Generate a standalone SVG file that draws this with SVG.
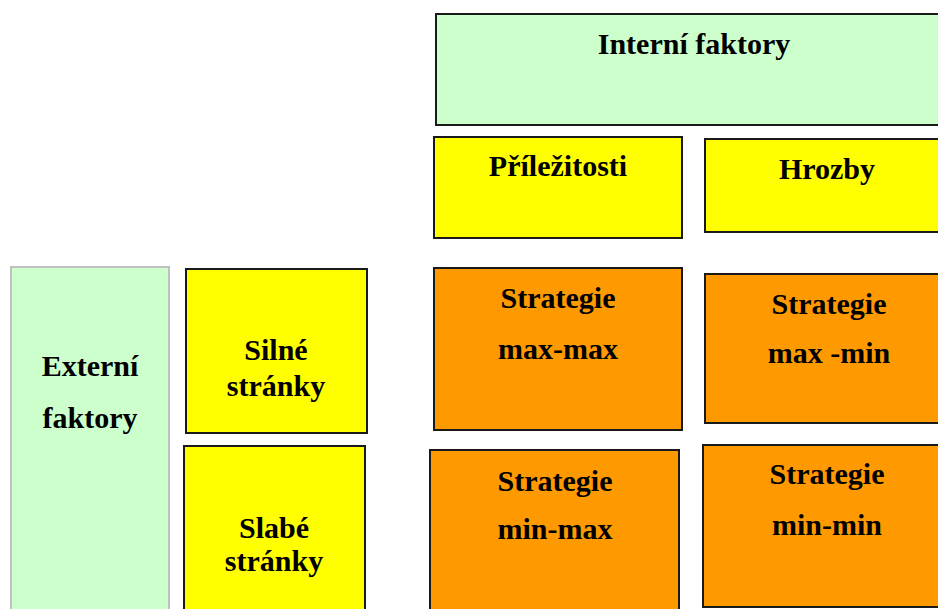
<svg xmlns="http://www.w3.org/2000/svg" width="938" height="609" viewBox="0 0 938 609">
<style>
.g{fill:#CCFFCC;stroke:#1a1a1a;stroke-width:2}
.ge{fill:#CCFFCC;stroke:#c0c0c0;stroke-width:2}
.y{fill:#FFFF00;stroke:#1a1a1a;stroke-width:2}
.o{fill:#FF9900;stroke:#1a1a1a;stroke-width:2}
text{font-family:"Liberation Serif","Times New Roman",serif;font-weight:bold;font-size:30px;fill:#000;text-anchor:middle}
</style>
<rect width="938" height="609" fill="#fff"/>
<g id="interni"><rect class="g" x="436" y="14" width="510" height="111"/><text x="694" y="54">Interní faktory</text></g>
<g id="prilezitosti"><rect class="y" x="434" y="137" width="248" height="101"/><text x="558" y="176">Příležitosti</text></g>
<g id="hrozby"><rect class="y" x="705" y="139" width="240" height="93"/><text x="827" y="179">Hrozby</text></g>
<g id="externi"><rect class="ge" x="11" y="267" width="158" height="350"/><text x="90" y="376">Externí</text><text x="90" y="428">faktory</text></g>
<g id="silne"><rect class="y" x="186" y="269" width="181" height="164"/><text x="276" y="360">Silné</text><text x="276" y="396">stránky</text></g>
<g id="slabe"><rect class="y" x="184" y="446" width="181" height="170"/><text x="274" y="538">Slabé</text><text x="274" y="571">stránky</text></g>
<g id="maxmax"><rect class="o" x="434" y="268" width="248" height="162"/><text x="558" y="308">Strategie</text><text x="558" y="359">max-max</text></g>
<g id="maxmin"><rect class="o" x="705" y="274" width="240" height="149"/><text x="829" y="314">Strategie</text><text x="829" y="363">max -min</text></g>
<g id="minmax"><rect class="o" x="430" y="450" width="249" height="165"/><text x="555" y="491">Strategie</text><text x="555" y="539">min-max</text></g>
<g id="minmin"><rect class="o" x="703" y="445" width="240" height="162"/><text x="827" y="484">Strategie</text><text x="827" y="535">min-min</text></g>
<g id="connectors"></g>
</svg>
